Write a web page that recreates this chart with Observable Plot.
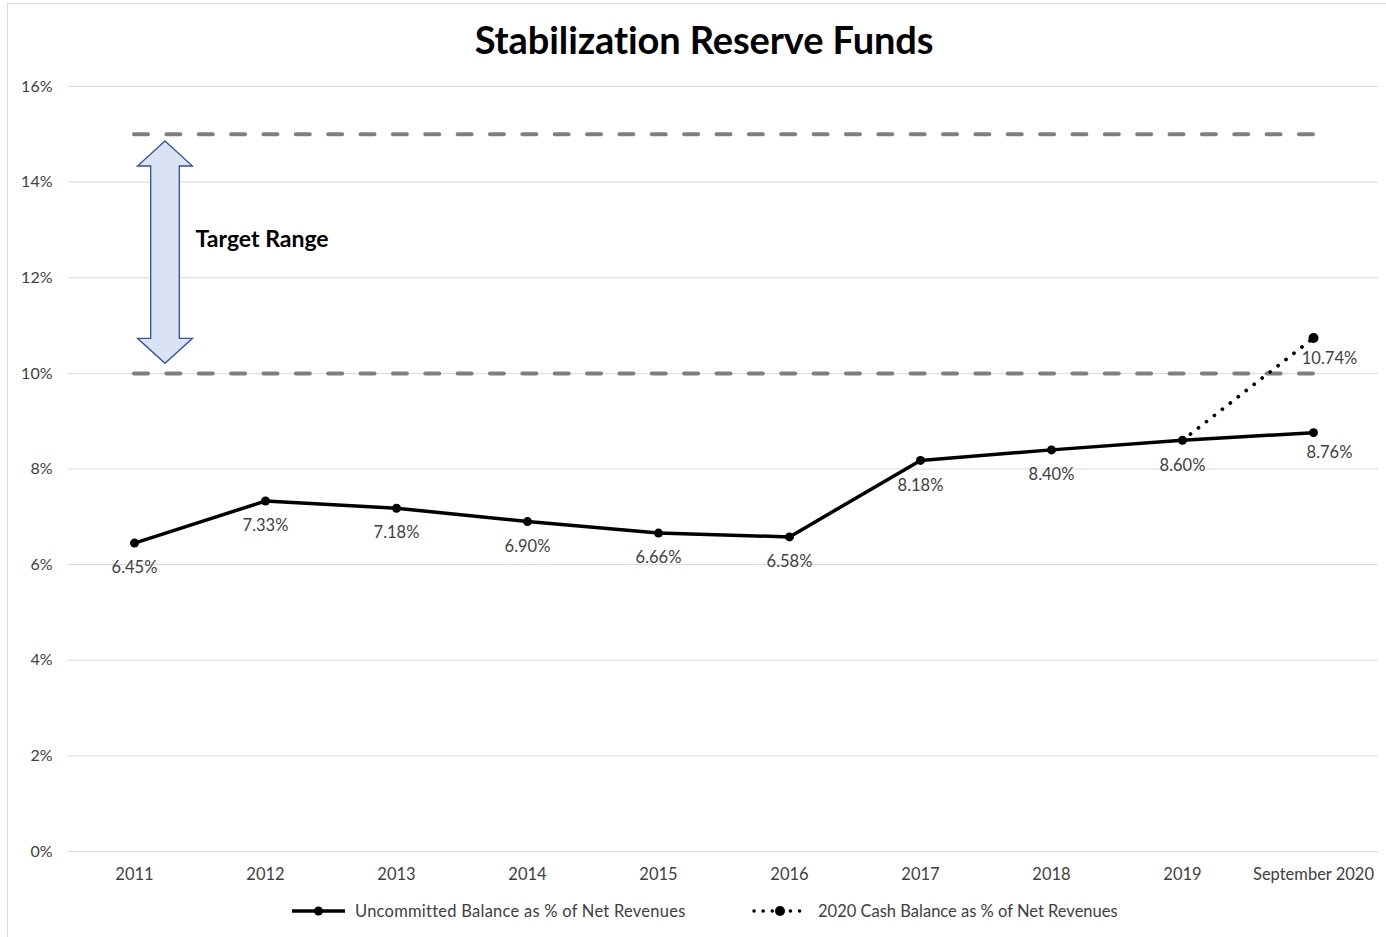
<!DOCTYPE html>
<html>
<head>
<meta charset="utf-8">
<script src="https://cdn.jsdelivr.net/npm/d3@7"></script>
<script src="https://cdn.jsdelivr.net/npm/@observablehq/plot@0.6"></script>
<style>
  html, body { margin: 0; padding: 0; background: #fff; }
  #wrap { position: relative; width: 1386px; height: 937px; overflow: hidden; font-family: Lato, "Open Sans", sans-serif; }
  #frame { position: absolute; left: 7px; top: 3px; width: 1400px; height: 960px; border-top: 1px solid #d9d9d9; border-left: 1px solid #d9d9d9; }
  #title { position: absolute; top: 15px; left: 0; width: 1408px; text-align: center; font-size: 38px; font-weight: bold; color: #000; letter-spacing: -0.1px; line-height: 48px; }
  #chart { position: absolute; left: 0; top: 70px; }
  #legend { position: absolute; top: 901px; left: 0; width: 1386px; height: 20px; font-size: 16.5px; color: #404040; }
  .item { position: absolute; top: 0; display: flex; align-items: center; height: 20px; }
  .item svg { margin-right: 10px; }
</style>
</head>
<body>
<div id="wrap">
  <div id="frame"></div>
  <div id="title">Stabilization Reserve Funds</div>
  <div id="chart"></div>
  <div id="legend"></div>
</div>
<script>
// ---- data ----
const categories = ["2011","2012","2013","2014","2015","2016","2017","2018","2019","September 2020"];
const uncommitted = [6.45, 7.33, 7.18, 6.90, 6.66, 6.58, 8.18, 8.40, 8.60, 8.76];
const cashCategories = ["2019", "September 2020"];
const cashValues = [8.60, 10.74];
const yTicks = [0, 2, 4, 6, 8, 10, 12, 14, 16];
const targetRange = [10, 15];
const arrowRange = [10.2, 14.85];
const targetLabel = {label: "Target Range", value: 12.8};
const seriesNames = ["Uncommitted Balance as % of Net Revenues", "2020 Cash Balance as % of Net Revenues"];

const fmt = v => v.toFixed(2) + "%";
const firstCat = categories[0];
const lastCat = categories[categories.length - 1];
const mainData = categories.map((c, i) => ({cat: c, v: uncommitted[i]}));
const mainInner = mainData.filter(d => d.cat !== lastCat);
const mainLast = mainData.filter(d => d.cat === lastCat);
const cashData = cashCategories.map((c, i) => ({cat: c, v: cashValues[i]}));
const cashLast = cashData.filter(d => d.cat === lastCat);

function arrowMark(index, scales) {
  const {x, y} = scales;
  const cx = x(firstCat) + 31;
  const yt = y(arrowRange[1]), yb = y(arrowRange[0]);
  const sw = 14.3, hw = 27.5, hh = 25;
  const pts = [[cx,yt],[cx+hw,yt+hh],[cx+sw,yt+hh],[cx+sw,yb-hh],[cx+hw,yb-hh],[cx,yb],
               [cx-hw,yb-hh],[cx-sw,yb-hh],[cx-sw,yt+hh],[cx-hw,yt+hh]];
  return d3.create("svg:polygon")
    .attr("points", pts.map(p => p.join(",")).join(" "))
    .attr("fill", "#dae3f3").attr("stroke", "#2f5597").attr("stroke-width", 1.3)
    .node();
}

const labelFont = 16.5;
const chart = Plot.plot({
  width: 1386,
  height: 821,
  marginTop: 16,
  marginBottom: 40,
  marginLeft: 68,
  marginRight: 8,
  style: {fontFamily: "Lato, 'Open Sans', sans-serif", background: "transparent"},
  x: {type: "point", domain: categories, padding: 0.5},
  y: {domain: [0, 16]},
  marks: [
    Plot.gridY(yTicks, {stroke: "#d9d9d9", strokeOpacity: 1, strokeWidth: 1}),
    Plot.axisY(yTicks, {tickSize: 0, tickPadding: 16, tickFormat: d => d + "%", fontSize: 16, fill: "#404040", label: null}),
    Plot.axisX({tickSize: 0, tickPadding: 17, fontSize: labelFont, fill: "#404040", label: null}),
    Plot.ruleY(targetRange, {y: d => d, x1: () => firstCat, x2: () => lastCat, stroke: "#7f7f7f", strokeWidth: 4, strokeDasharray: "14,18.36", strokeLinecap: "round"}),
    arrowMark,
    Plot.text([targetLabel], {x: () => firstCat, y: "value", text: "label", dx: 61, textAnchor: "start", fontWeight: "bold", fontSize: 23, fill: "#000"}),
    Plot.line(mainData, {x: "cat", y: "v", stroke: "#000", strokeWidth: 3.5}),
    Plot.line(cashData, {x: "cat", y: "v", stroke: "#000", strokeWidth: 3.7, strokeDasharray: "0.1,10", strokeLinecap: "round"}),
    Plot.dot(mainData, {x: "cat", y: "v", r: 4.5, fill: "#000"}),
    Plot.dot(cashLast, {x: "cat", y: "v", r: 5, fill: "#000"}),
    Plot.text(mainInner, {x: "cat", y: "v", text: d => fmt(d.v), dy: 25, fontSize: labelFont, fill: "#404040"}),
    Plot.text(mainLast, {x: "cat", y: "v", text: d => fmt(d.v), dy: 20, dx: 16, fontSize: labelFont, fill: "#404040"}),
    Plot.text(cashLast, {x: "cat", y: "v", text: d => fmt(d.v), dy: 21, dx: 16, fontSize: labelFont, fill: "#404040"})
  ]
});
document.getElementById("chart").appendChild(chart);

// legend
const legend = document.getElementById("legend");
const items = [
  {left: 292, name: seriesNames[0], dash: null, r: 4.5, spacing: "0.25px"},
  {left: 752, name: seriesNames[1], dash: "0.1,9", r: 5, spacing: "0px"}
];
items.forEach(it => {
  const div = document.createElement("div");
  div.className = "item";
  div.style.left = it.left + "px";
  const w = it.dash ? 56 : 53;
  const s = d3.create("svg").attr("width", w).attr("height", 20);
  s.append("line").attr("x1", it.dash ? 2 : 0).attr("x2", it.dash ? w - 2 : w).attr("y1", 10).attr("y2", 10)
    .attr("stroke", "#000").attr("stroke-width", 3.5)
    .attr("stroke-dasharray", it.dash).attr("stroke-linecap", it.dash ? "round" : "butt");
  s.append("circle").attr("cx", w / 2).attr("cy", 10).attr("r", it.r).attr("fill", "#000");
  div.appendChild(s.node());
  const span = document.createElement("span");
  span.textContent = it.name;
  span.style.letterSpacing = it.spacing;
  div.appendChild(span);
  legend.appendChild(div);
});
</script>
</body>
</html>
